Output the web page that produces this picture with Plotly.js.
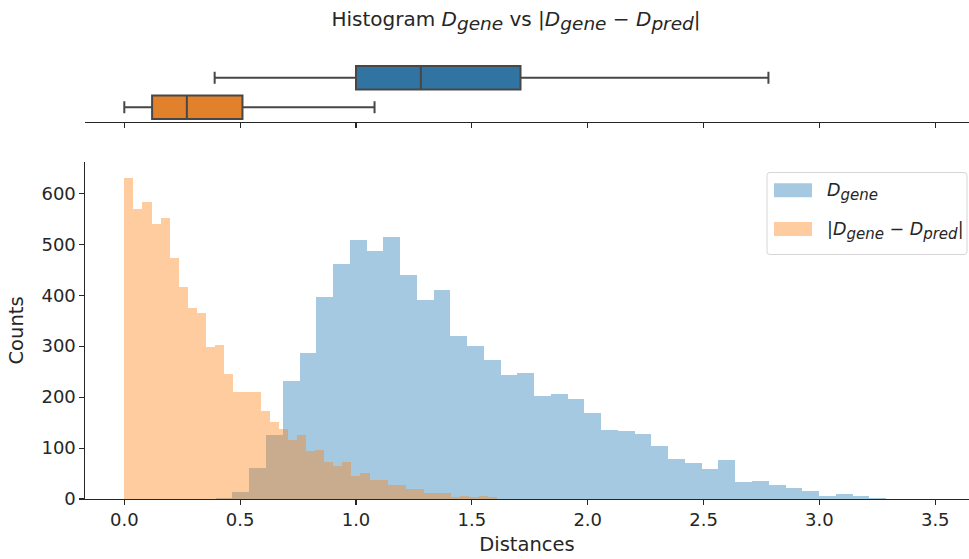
<!DOCTYPE html>
<html>
<head>
<meta charset="utf-8">
<script src="https://cdn.plot.ly/plotly-3.0.1.min.js"></script>
<style>
  html, body { margin: 0; padding: 0; background: #fff; }
  #chart { width: 969px; height: 559px; }
</style>
</head>
<body>
<div id="chart"></div>
<script>
// Histogram counts for the gene distances, 40 equal bins
const geneBinStart = 0.3945;
const geneBinWidth = 0.07233;
const geneCounts = [2, 13, 60, 126, 231, 287, 397, 462, 508, 486,
                    514, 439, 391, 410, 319, 300, 272, 243, 247, 202,
                    206, 196, 168, 136, 133, 127, 105, 79, 70, 58,
                    77, 33, 35, 28, 22, 16, 6, 9, 6, 2];

// Histogram counts for the absolute prediction error, 41 equal bins
const errBinStart = 0.0;
const errBinWidth = 0.0392;
const errCounts = [630, 570, 583, 539, 551, 473, 417, 375, 365, 299,
                   303, 246, 211, 211, 211, 173, 151, 138, 116, 125,
                   95, 97, 73, 64, 73, 45, 51, 37, 37, 28,
                   28, 19, 19, 12, 12, 12, 3, 6, 3, 6, 3];

// Box plot summaries: [lower whisker, Q1, median, Q3, upper whisker]
const geneBox = [0.39, 1.00, 1.28, 1.71, 2.78];
const errBox = [0.00, 0.12, 0.27, 0.51, 1.08];

const xTicks = [0, 0.5, 1, 1.5, 2, 2.5, 3, 3.5];
const yTicks = [0, 100, 200, 300, 400, 500, 600];

// math-style labels: italic symbol with an italic subscript
function sym(base, sub, subPx) {
  return `<i>${base}</i><sub><span style="font-size:${subPx}px"><i>${sub}</i></span></sub>`;
}
function geneLabel(subPx) { return sym('D', 'gene', subPx); }
function errLabel(subPx) { return `|${sym('D', 'gene', subPx)} \u2212 ${sym('D', 'pred', subPx)}|`; }

const FONT = 'DejaVu Sans, Verdana, sans-serif';
const INK = '#262626';
const blueFill = 'rgba(31,119,180,0.4)';
const orangeFill = 'rgba(255,127,14,0.4)';

function centers(start, width, n) {
  const out = [];
  for (let i = 0; i < n; i++) out.push(start + (i + 0.5) * width);
  return out;
}

const W = 969, H = 559;
const M = { l: 85, r: 0, t: 63, b: 60 };
const plotW = W - M.l - M.r, plotH = H - M.t - M.b;
const px = x => (x - M.l) / plotW;          // pixel -> paper x
const py = y => (H - M.b - y) / plotH;      // pixel -> paper y

const traces = [
  {
    type: 'bar', name: 'gene',
    x: centers(geneBinStart, geneBinWidth, geneCounts.length),
    y: geneCounts, width: geneBinWidth,
    marker: { color: blueFill, line: { width: 0 } },
    xaxis: 'x', yaxis: 'y', showlegend: false, hoverinfo: 'x+y'
  },
  {
    type: 'bar', name: 'error',
    x: centers(errBinStart, errBinWidth, errCounts.length),
    y: errCounts, width: errBinWidth,
    marker: { color: orangeFill, line: { width: 0 } },
    xaxis: 'x', yaxis: 'y', showlegend: false, hoverinfo: 'x+y'
  },
  {
    type: 'box', orientation: 'h', y: [0],
    lowerfence: [geneBox[0]], q1: [geneBox[1]], median: [geneBox[2]],
    q3: [geneBox[3]], upperfence: [geneBox[4]],
    width: 0.8, whiskerwidth: 0.5, boxpoints: false,
    fillcolor: '#3274a1', line: { color: '#474747', width: 2 },
    xaxis: 'x2', yaxis: 'y2', showlegend: false
  },
  {
    type: 'box', orientation: 'h', y: [1],
    lowerfence: [errBox[0]], q1: [errBox[1]], median: [errBox[2]],
    q3: [errBox[3]], upperfence: [errBox[4]],
    width: 0.8, whiskerwidth: 0.5, boxpoints: false,
    fillcolor: '#e1812c', line: { color: '#474747', width: 2 },
    xaxis: 'x2', yaxis: 'y2', showlegend: false
  }
];

const xRange = [(M.l - 124.3) / 231.7, (M.l - 124.3 + plotW) / 231.7];
const tickFont = { family: FONT, size: 18, color: INK };
const labelFont = { family: FONT, size: 19.5, color: INK };

const axisBase = {
  range: xRange, showline: true, linecolor: INK, linewidth: 1.1,
  ticks: 'outside', ticklen: 4.5, tickwidth: 1.1, tickcolor: INK,
  showgrid: false, zeroline: false, tickvals: xTicks, tickformat: '.1f',
  tickfont: tickFont
};

// legend drawn as a framed box with two swatches
const lg = { x0: 767, x1: 967, y0: 172.5, y1: 254.5, r: 3 };
function roundedRect(b) {
  const rx = b.r / plotW, ry = b.r / plotH;
  const L = px(b.x0), R = px(b.x1), T = py(b.y0), B = py(b.y1);
  return `M${L + rx},${T} L${R - rx},${T} Q${R},${T} ${R},${T - ry} ` +
         `L${R},${B + ry} Q${R},${B} ${R - rx},${B} L${L + rx},${B} ` +
         `Q${L},${B} ${L},${B + ry} L${L},${T - ry} Q${L},${T} ${L + rx},${T} Z`;
}

const shapes = [
  { type: 'path', xref: 'paper', yref: 'paper', path: roundedRect(lg),
    fillcolor: 'rgba(255,255,255,0.8)', line: { color: '#d6d6d6', width: 1 } },
  { type: 'rect', xref: 'paper', yref: 'paper',
    x0: px(774), x1: px(812), y0: py(183.3), y1: py(197.3),
    fillcolor: blueFill, line: { width: 0 } },
  { type: 'rect', xref: 'paper', yref: 'paper',
    x0: px(774), x1: px(812), y0: py(222), y1: py(236),
    fillcolor: orangeFill, line: { width: 0 } }
];

const legendFont = { family: FONT, size: 17.5, color: INK };
const annotations = [
  { xref: 'paper', yref: 'paper', x: px(825), y: py(192), xanchor: 'left', yanchor: 'middle',
    text: geneLabel(15), showarrow: false, font: legendFont },
  { xref: 'paper', yref: 'paper', x: px(825), y: py(231), xanchor: 'left', yanchor: 'middle',
    text: errLabel(15), showarrow: false, font: legendFont }
];

const layout = {
  width: W, height: H, margin: M,
  paper_bgcolor: '#fff', plot_bgcolor: 'rgba(0,0,0,0)',
  font: { family: FONT, size: 18, color: INK },
  barmode: 'overlay', bargap: 0,
  title: {
    text: 'Histogram ' + geneLabel(18.5) + ' vs ' + errLabel(18.5),
    font: { family: FONT, size: 20, color: INK },
    xref: 'container', yref: 'container', x: 516 / W, y: 1 - 19 / H,
    xanchor: 'center', yanchor: 'middle'
  },
  xaxis: Object.assign({}, axisBase, {
    domain: [0, 1], anchor: 'y',
    title: { text: 'Distances', font: labelFont, standoff: 8 }
  }),
  yaxis: {
    domain: [0, py(162)], anchor: 'x', range: [0, 661.5],
    showline: true, linecolor: INK, linewidth: 1.1,
    ticks: 'outside', ticklen: 4.5, tickwidth: 1.1, tickcolor: INK,
    showgrid: false, zeroline: false, tickvals: yTicks, tickfont: tickFont,
    title: { text: 'Counts', font: labelFont, standoff: 12 }
  },
  xaxis2: Object.assign({}, axisBase, {
    domain: [0, 1], anchor: 'y2', matches: 'x', showticklabels: false
  }),
  yaxis2: {
    domain: [py(122), 1], anchor: 'x2', range: [1.5, -0.5],
    visible: false, showticklabels: false, ticks: '', showgrid: false, zeroline: false
  },
  shapes: shapes,
  annotations: annotations
};

Plotly.newPlot('chart', traces, layout, { staticPlot: true, displayModeBar: false });
</script>
</body>
</html>
